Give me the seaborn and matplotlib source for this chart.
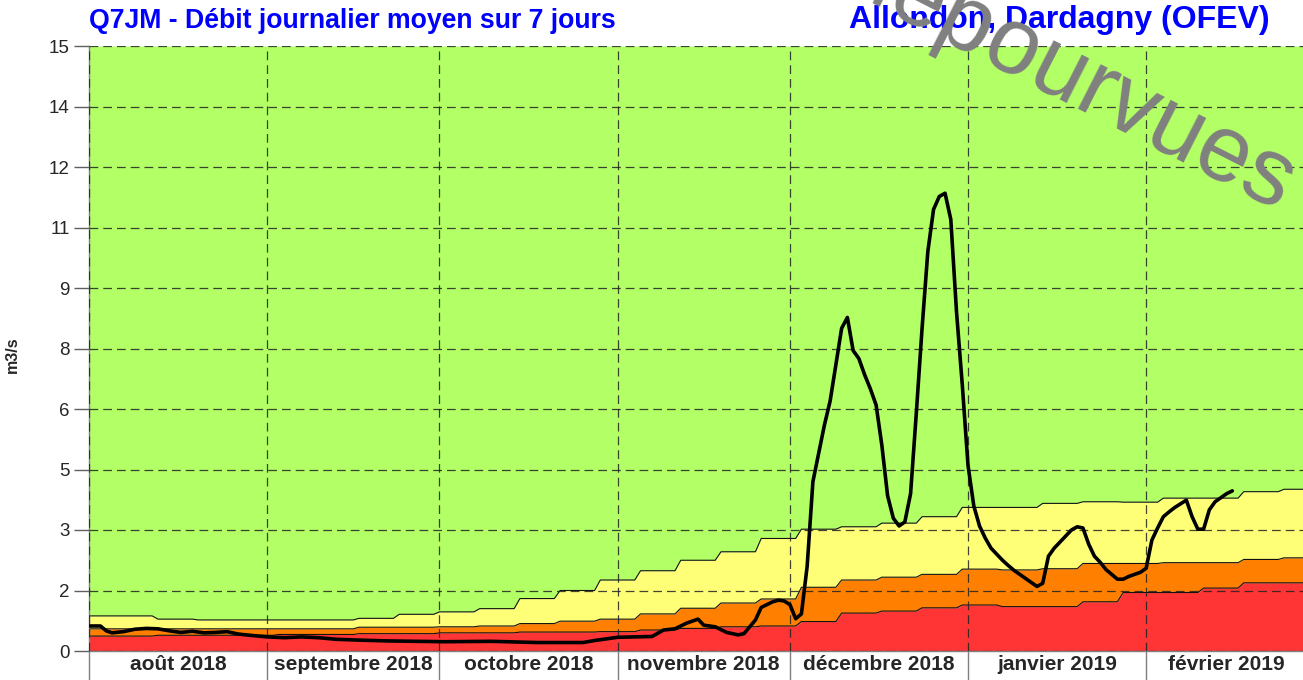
import numpy as np
import pandas as pd
import matplotlib
matplotlib.use("Agg")
import matplotlib.pyplot as plt
import seaborn as sns

sns.set_theme(style="white")
plt.rcParams['font.family'] = ['Liberation Sans', 'DejaVu Sans']

# ---------------- data ----------------
# weekly threshold values (weeks starting on Mondays from 2018-07-30)
semaine_debut = pd.date_range('2018-07-30', periods=31, freq='7D')
seuil_rouge = [0.37, 0.37, 0.39, 0.39, 0.39, 0.41, 0.41, 0.43, 0.43, 0.45,
               0.45, 0.47, 0.47, 0.48, 0.52, 0.56, 0.60, 0.62, 0.73, 0.94,
               0.99, 1.07, 1.14, 1.10, 1.10, 1.22, 1.45, 1.45, 1.56, 1.69, 1.69]
seuil_orange = [0.55, 0.55, 0.55, 0.55, 0.55, 0.55, 0.55, 0.59, 0.59, 0.60,
                0.62, 0.68, 0.74, 0.79, 0.92, 1.06, 1.19, 1.29, 1.58, 1.76,
                1.83, 1.90, 2.03, 2.01, 2.04, 2.17, 2.17, 2.19, 2.19, 2.27, 2.31]
seuil_jaune = [0.87, 0.87, 0.79, 0.77, 0.77, 0.77, 0.77, 0.81, 0.91, 0.97,
               1.05, 1.30, 1.50, 1.76, 1.99, 2.25, 2.46, 2.79, 3.02, 3.08,
               3.17, 3.33, 3.56, 3.56, 3.66, 3.70, 3.69, 3.79, 3.79, 3.95, 4.01]

# Q7JM observed: days since 2018-08-01 and values (m3/s)
q7_jours = [0, 2, 3, 4, 6, 8, 10, 12, 14, 16, 18, 20, 22, 24, 26, 28, 31, 34,
            37, 40, 43, 47, 52, 57, 62, 70, 78, 86, 88, 92, 95, 98, 100, 102,
            104, 106, 107, 109, 111, 113, 114, 116, 117, 119, 120, 121, 122,
            123, 124, 125, 126, 127, 128, 129, 130, 131, 132, 133, 134, 135,
            136, 137, 138, 139, 140, 141, 142, 143, 144, 145, 146, 147, 148,
            149, 150, 151, 152, 153, 154, 155, 156, 157, 158, 159, 160, 161,
            162, 163, 164, 165, 166, 167, 168, 169, 170, 171, 172, 173, 174,
            175, 176, 177, 178, 179, 180, 181, 182, 183, 184, 185, 186, 187,
            188, 189, 190, 191, 192, 193, 194, 195, 196, 197, 198, 199]
q7_valeurs = [0.62, 0.62, 0.50, 0.45, 0.48, 0.54, 0.56, 0.55, 0.50, 0.46, 0.49,
              0.45, 0.46, 0.48, 0.42, 0.39, 0.35, 0.33, 0.35, 0.33, 0.29, 0.27,
              0.25, 0.24, 0.23, 0.24, 0.21, 0.21, 0.26, 0.34, 0.35, 0.36, 0.52,
              0.55, 0.69, 0.79, 0.64, 0.60, 0.46, 0.40, 0.43, 0.77, 1.08, 1.22,
              1.26, 1.24, 1.15, 0.80, 0.92, 2.10, 4.20, 4.90, 5.60, 6.20, 7.10,
              8.00, 8.27, 7.45, 7.25, 6.85, 6.50, 6.10, 5.10, 3.85, 3.29, 3.10,
              3.20, 3.90, 5.90, 8.00, 9.90, 10.95, 11.27, 11.35, 10.70, 8.40,
              6.60, 4.60, 3.60, 3.10, 2.80, 2.55, 2.40, 2.25, 2.12, 2.00, 1.90,
              1.80, 1.70, 1.60, 1.68, 2.35, 2.55, 2.70, 2.85, 3.00, 3.08, 3.05,
              2.65, 2.35, 2.20, 2.02, 1.90, 1.78, 1.78, 1.85, 1.90, 1.95, 2.05,
              2.75, 3.05, 3.33, 3.45, 3.56, 3.65, 3.74, 3.33, 3.02, 3.02, 3.50,
              3.70, 3.80, 3.90, 3.97]

y_ticks = [0, 1.5, 3, 4.5, 6, 7.5, 9, 10.5, 12, 13.5, 15]
y_labels = ['0', '2', '3', '5', '6', '8', '9', '11', '12', '14', '15']
mois_debut = pd.date_range('2018-08-01', '2019-03-01', freq='MS')
mois_labels = ['août 2018', 'septembre 2018', 'octobre 2018', 'novembre 2018',
               'décembre 2018', 'janvier 2019', 'février 2019']

# ---------------- build step series ----------------
xs, r_, o_, j_ = [], [], [], []
for d, r, o, j in zip(semaine_debut, seuil_rouge, seuil_orange, seuil_jaune):
    for dd in (d, d + pd.Timedelta(days=6)):
        xs.append(dd); r_.append(r); o_.append(o); j_.append(j)
xs = pd.to_datetime(xs)
df_seuils = pd.DataFrame({'date': xs, 'rouge': r_, 'orange': o_, 'jaune': j_})

df_q7 = pd.DataFrame({
    'date': pd.Timestamp('2018-08-01') + pd.to_timedelta(q7_jours, unit='D'),
    'q7jm': q7_valeurs})

# ---------------- figure ----------------
fig = plt.figure(figsize=(13.03, 6.80), dpi=100)
ax = fig.add_axes([89 / 1303, 29 / 680, 1218 / 1303, 605 / 680])

ymax = y_ticks[-1]
c_vert, c_jaune, c_orange, c_rouge = '#B3FF66', '#FFFF77', '#FF8000', '#FF3535'
ax.fill_between(df_seuils['date'], df_seuils['jaune'], ymax, color=c_vert, lw=0, zorder=1)
ax.fill_between(df_seuils['date'], df_seuils['orange'], df_seuils['jaune'], color=c_jaune, lw=0, zorder=1)
ax.fill_between(df_seuils['date'], df_seuils['rouge'], df_seuils['orange'], color=c_orange, lw=0, zorder=1)
ax.fill_between(df_seuils['date'], 0, df_seuils['rouge'], color=c_rouge, lw=0, zorder=1)
for col in ('rouge', 'orange', 'jaune'):
    ax.plot(df_seuils['date'], df_seuils[col], color='#111111', lw=0.8, zorder=1.5)

sns.lineplot(data=df_q7, x='date', y='q7jm', ax=ax, color='black', lw=2.6, zorder=4)

ax.set_xlim(mois_debut[0], mois_debut[-1])
ax.set_ylim(0, ymax)

ax.set_axisbelow(False)
ax.set_yticks(y_ticks)
ax.set_yticklabels(y_labels, fontsize=13.5)
ax.set_xticks(mois_debut)
ax.set_xticklabels([''] * len(mois_debut))
centres = [mois_debut[i] + (mois_debut[i + 1] - mois_debut[i]) / 2 for i in range(len(mois_labels))]
ax.set_xticks(centres, minor=True)
ax.set_xticklabels(mois_labels, minor=True, fontsize=15, fontweight='bold')
ax.tick_params(axis='x', which='major', length=22, width=1, color='#7f7f7f', direction='out', bottom=True)
ax.tick_params(axis='x', which='minor', length=0, pad=3, bottom=True)
ax.tick_params(axis='y', which='major', length=11, width=1, color='#606060', direction='out', left=True, pad=3)
ax.grid(True, which='major', axis='both', color='#222222', lw=0.9,
        linestyle=(0, (7, 4)), alpha=0.85, zorder=2.5)

for s in ('top', 'right'):
    ax.spines[s].set_visible(False)
for s in ('left', 'bottom'):
    ax.spines[s].set_color('#7f7f7f')
    ax.spines[s].set_linewidth(1)
ax.set_xlabel('')
ax.set_ylabel('m3/s', fontsize=11.5, fontweight='bold')
ax.yaxis.set_label_coords((20 - 89) / 1218, 0.49)

fig.text(89 / 1303, 1 - 21 / 680, 'Q7JM - Débit journalier moyen sur 7 jours',
         color='#0000FF', fontsize=19.2, fontweight='bold', ha='left', va='center')
fig.text(1270 / 1303, 1 - 20 / 680, 'Allondon, Dardagny (OFEV)',
         color='#0000FF', fontsize=23, fontweight='bold', ha='right', va='center')
fig.text(1277 / 1303, 1 - 213 / 680, 'dépourvues', color='#808080', fontsize=68,
         rotation=-27, rotation_mode='anchor', ha='right', va='baseline', zorder=10)

fig.savefig('out.png', dpi=100)
